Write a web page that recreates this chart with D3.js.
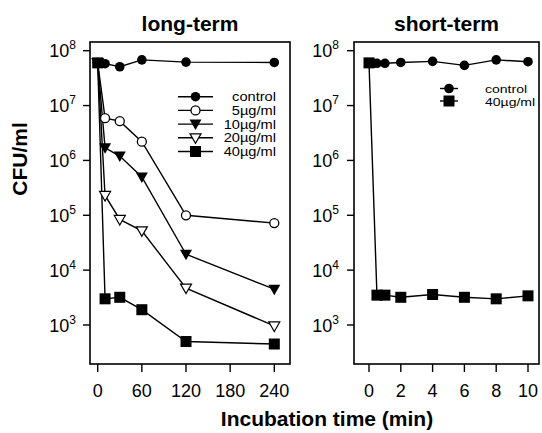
<!DOCTYPE html>
<html lang="en">
<head>
  <meta charset="UTF-8">
  <title>CFU/ml over incubation time</title>
  <style>
    html, body { margin: 0; padding: 0; background: white; }
    svg { display: block; font-family: "Liberation Sans", Arial, sans-serif; }
  </style>
</head>
<body>
  <script src="https://d3js.org/d3.v7.min.js"></script>
  <script>
    // data
    const longTimes = [0, 10, 30, 60, 120, 240];
    const longControl = [6e7, 5.8e7, 5.1e7, 6.8e7, 6.2e7, 6.1e7];
    const long5 = [6e7, 5.9e6, 5.2e6, 2.2e6, 1.0e5, 7.2e4];
    const long10 = [6e7, 1.7e6, 1.2e6, 5.0e5, 1.95e4, 4.5e3];
    const long20 = [6e7, 2.3e5, 8.4e4, 5.2e4, 4.7e3, 9.6e2];
    const long40 = [6e7, 3.0e3, 3.2e3, 1.9e3, 5.0e2, 4.5e2];

    const shortControlTimes = [0, 0.25, 0.5, 1, 2, 4, 6, 8, 10];
    const shortControl = [5.9e7, 5.9e7, 5.9e7, 5.9e7, 6.1e7, 6.4e7, 5.4e7, 6.8e7, 6.3e7];
    const short40Times = [0, 0.5, 1, 2, 4, 6, 8, 10];
    const short40 = [6e7, 3.5e3, 3.5e3, 3.2e3, 3.6e3, 3.2e3, 3.0e3, 3.4e3];

    const yTicks = [1e3, 1e4, 1e5, 1e6, 1e7, 1e8];
    const longXTicks = [0, 60, 120, 180, 240];
    const shortXTicks = [0, 2, 4, 6, 8, 10];

    const longLegend = ['control', '5µg/ml', '10µg/ml', '20µg/ml', '40µg/ml'];
    const shortLegend = ['control', '40µg/ml'];

    const width = 542, height = 433;
    const svg = d3.select('body').append('svg')
      .attr('width', width)
      .attr('height', height);

    // shared log y scale (10^8 at 50.7, 10^3 at 325)
    const y = d3.scaleLog().domain([1e3, 1e8]).range([325, 50.7]);
    const frameTop = 42, frameBottom = 364;

    const xLong = d3.scaleLinear().domain([0, 240]).range([97.7, 274.3]);
    const xShort = d3.scaleLinear().domain([0, 10]).range([369, 528]);

    // marker drawing
    function marker(g, type, cx, cy) {
      if (type === 'circle') {
        g.append('circle').attr('cx', cx).attr('cy', cy).attr('r', 4.8).attr('fill', 'black');
      } else if (type === 'ocircle') {
        g.append('circle').attr('cx', cx).attr('cy', cy).attr('r', 4.5)
          .attr('fill', 'white').attr('stroke', 'black').attr('stroke-width', 1.3);
      } else if (type === 'tri') {
        g.append('path').attr('d', `M${cx - 6},${cy - 4.5}L${cx + 6},${cy - 4.5}L${cx},${cy + 6}Z`)
          .attr('fill', 'black');
      } else if (type === 'otri') {
        g.append('path').attr('d', `M${cx - 5.5},${cy - 4}L${cx + 5.5},${cy - 4}L${cx},${cy + 5.5}Z`)
          .attr('fill', 'white').attr('stroke', 'black').attr('stroke-width', 1.2);
      } else if (type === 'square') {
        g.append('rect').attr('x', cx - 5.5).attr('y', cy - 5.5).attr('width', 11).attr('height', 11)
          .attr('fill', 'black');
      }
    }

    function drawSeries(x, times, values, type) {
      const g = svg.append('g');
      const pts = times.map((t, i) => [x(t), y(values[i])]);
      g.append('path')
        .attr('d', d3.line()(pts))
        .attr('fill', 'none')
        .attr('stroke', 'black')
        .attr('stroke-width', 1.4);
      pts.forEach(p => marker(g, type, p[0], p[1]));
    }

    function drawFrame(x0, x1, x, xTicks, labelEnd, title) {
      svg.append('rect')
        .attr('x', x0).attr('y', frameTop)
        .attr('width', x1 - x0).attr('height', frameBottom - frameTop)
        .attr('fill', 'none').attr('stroke', 'black').attr('stroke-width', 1.6);

      // y ticks + labels
      yTicks.forEach(v => {
        svg.append('line')
          .attr('x1', x0 - 7).attr('x2', x0).attr('y1', y(v)).attr('y2', y(v))
          .attr('stroke', 'black').attr('stroke-width', 1.4);
        const t = svg.append('text')
          .attr('x', labelEnd).attr('y', y(v) + 6.5)
          .attr('text-anchor', 'end')
          .attr('font-size', 18);
        t.append('tspan').text('10');
        t.append('tspan').attr('dy', -8).attr('font-size', 12).text(Math.round(Math.log10(v)));
      });

      // x ticks + labels
      xTicks.forEach(v => {
        svg.append('line')
          .attr('x1', x(v)).attr('x2', x(v)).attr('y1', frameBottom).attr('y2', frameBottom + 8)
          .attr('stroke', 'black').attr('stroke-width', 1.4);
        svg.append('text')
          .attr('x', x(v)).attr('y', 397)
          .attr('text-anchor', 'middle')
          .attr('font-size', 18)
          .text(v);
      });

      svg.append('text')
        .attr('x', (x0 + x1) / 2).attr('y', 31)
        .attr('text-anchor', 'middle')
        .attr('font-size', 21).attr('font-weight', 'bold')
        .text(title);
    }

    drawFrame(90, 290, xLong, longXTicks, 76, 'long-term');
    drawFrame(354, 539, xShort, shortXTicks, 339, 'short-term');

    // long-term series
    drawSeries(xLong, longTimes, long40, 'square');
    drawSeries(xLong, longTimes, long20, 'otri');
    drawSeries(xLong, longTimes, long10, 'tri');
    drawSeries(xLong, longTimes, long5, 'ocircle');
    drawSeries(xLong, longTimes, longControl, 'circle');

    // short-term series
    drawSeries(xShort, short40Times, short40, 'square');
    drawSeries(xShort, shortControlTimes, shortControl, 'circle');

    // legends (narrow, slightly stretched text like the original)
    const longTypes = ['circle', 'ocircle', 'tri', 'otri', 'square'];
    longLegend.forEach((name, i) => {
      const ly = 96.7 + i * 13.7;
      const g = svg.append('g');
      g.append('line').attr('x1', 178).attr('x2', 213).attr('y1', ly).attr('y2', ly)
        .attr('stroke', 'black').attr('stroke-width', 1.4);
      marker(g, longTypes[i], 195.5, ly);
      g.append('text')
        .attr('transform', `translate(276,${ly + 4.5}) scale(1.22,1)`)
        .attr('text-anchor', 'end').attr('font-size', 12).text(name);
    });

    const shortTypes = ['circle', 'square'];
    shortLegend.forEach((name, i) => {
      const ly = 88.5 + i * 12.5;
      const g = svg.append('g');
      g.append('line').attr('x1', 440).attr('x2', 458).attr('y1', ly).attr('y2', ly)
        .attr('stroke', 'black').attr('stroke-width', 1.4);
      marker(g, shortTypes[i], 449, ly);
      g.append('text')
        .attr('transform', `translate(485,${ly + 4.5}) scale(1.22,1)`)
        .attr('font-size', 11.5).text(name);
    });

    // axis titles
    svg.append('text')
      .attr('transform', 'translate(27,159) rotate(-90)')
      .attr('text-anchor', 'middle')
      .attr('font-size', 21).attr('font-weight', 'bold')
      .text('CFU/ml');

    svg.append('text')
      .attr('x', 327).attr('y', 426)
      .attr('text-anchor', 'middle')
      .attr('font-size', 21).attr('font-weight', 'bold')
      .text('Incubation time (min)');
  </script>
</body>
</html>
